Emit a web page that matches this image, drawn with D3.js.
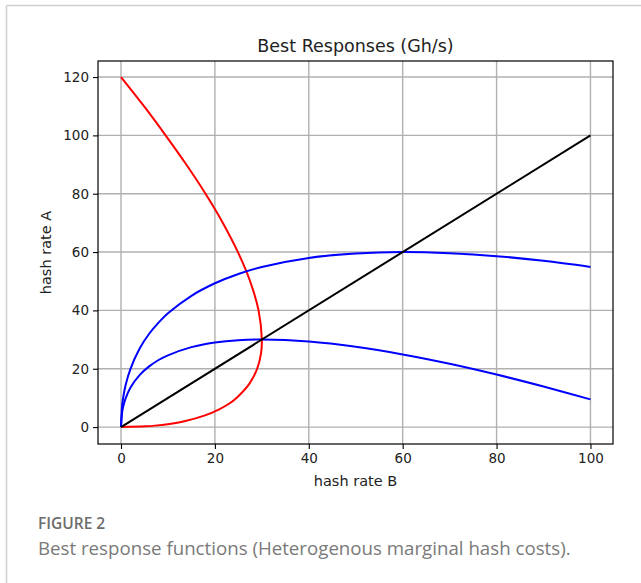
<!DOCTYPE html>
<html>
<head>
<meta charset="utf-8">
<script src="https://cdn.jsdelivr.net/npm/d3@7"></script>
<style>
  body { margin: 0; background: #fff; }
  svg { display: block; }
</style>
</head>
<body>
<div id="chart"></div>
<script>
// values
let xTicks = [0, 20, 40, 60, 80, 100];
let yTicks = [0, 20, 40, 60, 80, 100, 120];

// best response of A to B (upper blue)
let brHigh = [[0,0],[0.25,7.5],[0.5,10.45],[1,14.5],[2,19.9],[4,27],[6,32],[8,35.8],[10,39],
  [15,45],[20,49.3],[25,52.5],[30,54.9],[40,58],[50,59.5],[60,60],[70,59.6],[80,58.6],[90,57],[100,54.9]];
// best response of A to B (lower blue)
let brLow = [[0,0],[0.25,5.2],[0.5,7.25],[1,9.95],[2,13.5],[4,17.9],[6,20.8],[8,23],[10,24.6],
  [15,27.4],[20,29],[25,29.8],[30,30],[40,29.3],[50,27.5],[60,24.9],[70,21.7],[80,18],[90,13.9],[100,9.5]];
// best response of B to A (red)
let brB = [[0,0],[5.2,0.25],[7.25,0.5],[9.95,1],[13.5,2],[17.9,4],[20.8,6],[23,8],[24.6,10],
  [27.4,15],[29,20],[29.8,25],[30,30],[29.3,40],[27.5,50],[24.9,60],[21.7,70],[18,80],[13.9,90],
  [9.5,100],[4.9,110],[0,120]];
// diagonal
let diag = [[0,0],[100,100]];

let W = 641, H = 583;
let svg = d3.select("#chart").append("svg")
  .attr("width", W).attr("height", H);

// frame lines of the figure panel
svg.append("line").attr("x1", 6.5).attr("x2", W).attr("y1", 5.5).attr("y2", 5.5)
  .attr("stroke", "#d0d0d0").attr("stroke-width", 1.5);
svg.append("line").attr("x1", 6.5).attr("x2", 6.5).attr("y1", 5.5).attr("y2", H)
  .attr("stroke", "#d0d0d0").attr("stroke-width", 1.5);

let pLeft = 98, pRight = 613, pTop = 61, pBottom = 444;

let x = d3.scaleLinear().domain([-4.9, 104.8]).range([pLeft, pRight]);
let y = d3.scaleLinear().domain([-5.8, 125.5]).range([pBottom, pTop]);

let font = "'DejaVu Sans', sans-serif";

// grid
let grid = svg.append("g");
grid.selectAll(".gx").data(xTicks).enter().append("line")
  .attr("x1", d => x(d)).attr("x2", d => x(d))
  .attr("y1", pTop).attr("y2", pBottom)
  .attr("stroke", "#b0b0b0").attr("stroke-width", 1.4);
grid.selectAll(".gy").data(yTicks).enter().append("line")
  .attr("x1", pLeft).attr("x2", pRight)
  .attr("y1", d => y(d)).attr("y2", d => y(d))
  .attr("stroke", "#b0b0b0").attr("stroke-width", 1.4);

// curves
let line = d3.line().x(d => x(d[0])).y(d => y(d[1])).curve(d3.curveCatmullRom.alpha(0.5));
let plotArea = svg.append("g");
plotArea.append("path").datum(brB).attr("d", line)
  .attr("fill", "none").attr("stroke", "#ff0000").attr("stroke-width", 2);
plotArea.append("path").datum(brHigh).attr("d", line)
  .attr("fill", "none").attr("stroke", "#0000ff").attr("stroke-width", 2);
plotArea.append("path").datum(brLow).attr("d", line)
  .attr("fill", "none").attr("stroke", "#0000ff").attr("stroke-width", 2);
plotArea.append("path").datum(diag).attr("d", d3.line().x(d => x(d[0])).y(d => y(d[1])))
  .attr("fill", "none").attr("stroke", "#000").attr("stroke-width", 2);

// axes
let xAxis = svg.append("g").attr("transform", "translate(0," + pBottom + ")")
  .call(d3.axisBottom(x).tickValues(xTicks).tickSize(5).tickPadding(4));
let yAxis = svg.append("g").attr("transform", "translate(" + pLeft + ",0)")
  .call(d3.axisLeft(y).tickValues(yTicks).tickSize(5).tickPadding(4));
[xAxis, yAxis].forEach(a => {
  a.select(".domain").remove();
  a.selectAll(".tick line").attr("stroke", "#000").attr("stroke-width", 1.1);
  a.selectAll(".tick text").attr("font-family", font).attr("font-size", 13.5).attr("fill", "#222");
});

// box
svg.append("rect").attr("x", pLeft).attr("y", pTop)
  .attr("width", pRight - pLeft).attr("height", pBottom - pTop)
  .attr("fill", "none").attr("stroke", "#000").attr("stroke-width", 1.2);

// labels
svg.append("text").text("Best Responses (Gh/s)")
  .attr("x", (pLeft + pRight) / 2).attr("y", 52)
  .attr("text-anchor", "middle").attr("font-family", font).attr("font-size", 17.5)
  .attr("fill", "#222");
svg.append("text").text("hash rate B")
  .attr("x", (pLeft + pRight) / 2).attr("y", 486)
  .attr("text-anchor", "middle").attr("font-family", font).attr("font-size", 14.5)
  .attr("fill", "#222");
svg.append("text").text("hash rate A")
  .attr("transform", "translate(51," + (pTop + pBottom) / 2 + ")rotate(-90)")
  .attr("text-anchor", "middle").attr("font-family", font).attr("font-size", 14.5)
  .attr("fill", "#222");

// caption
svg.append("text").text("FIGURE 2")
  .attr("x", 38).attr("y", 529)
  .attr("font-family", "'Open Sans', sans-serif").attr("font-size", 15.5).attr("font-weight", 600)
  .attr("fill", "#6d6d6d");
svg.append("text").text("Best response functions (Heterogenous marginal hash costs).")
  .attr("x", 38).attr("y", 555)
  .attr("font-family", "'Open Sans', sans-serif").attr("font-size", 18.7)
  .attr("fill", "#7a7a7a");
</script>
</body>
</html>
